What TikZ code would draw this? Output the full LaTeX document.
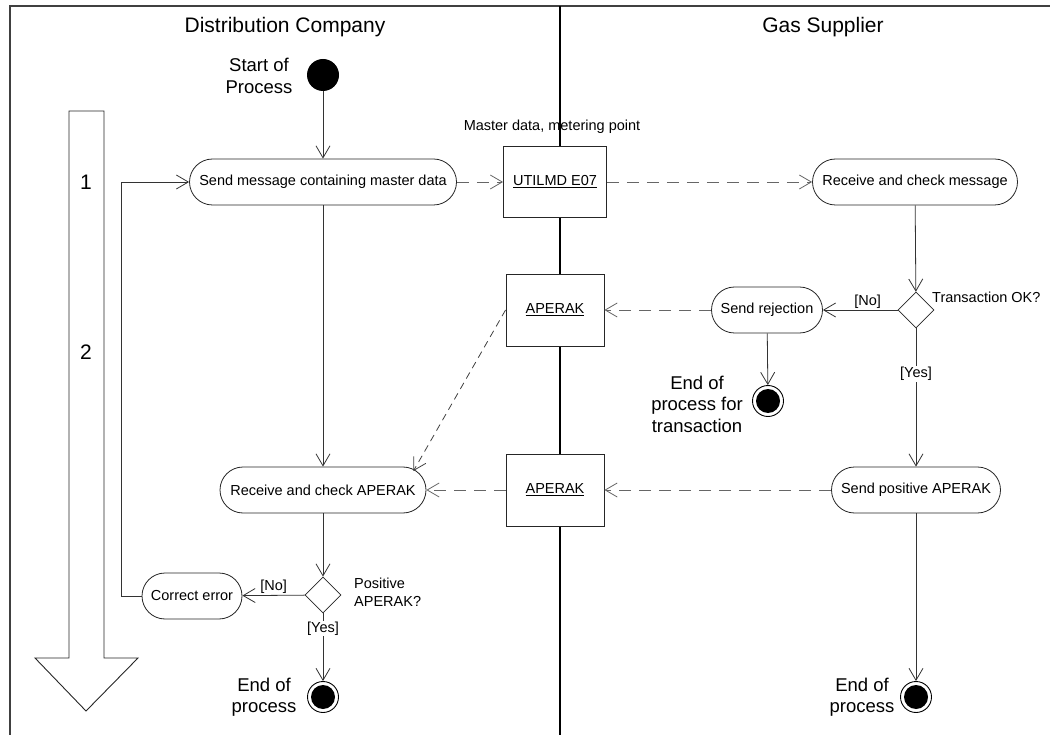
\documentclass[tikz,border=0pt]{standalone}
\usepackage{fontspec}
\setmainfont{Liberation Sans}
\usetikzlibrary{arrows.meta,shapes.geometric,calc}
\begin{document}
\begin{tikzpicture}[x=1pt,y=-1pt,
  ln/.style={draw=black!80, line width=0.8pt},
  arr/.style={ln,-{Straight Barb[length=12pt,width=14pt,line width=0.8pt]}},
  dsh/.style={arr, draw=black!60, dash pattern=on 12pt off 8pt},
  dshd/.style={arr, draw=black!75, dash pattern=on 7pt off 5pt},
  act/.style={draw=black!85, line width=0.8pt, fill=white, rounded corners=23pt, minimum height=46pt, inner sep=0pt, font=\fontsize{14.5}{17}\selectfont},
  obj/.style={draw=black!85, line width=0.9pt, fill=white, minimum width=98pt, minimum height=72pt, inner sep=0pt, font=\fontsize{14.5}{17}\selectfont},
  dec/.style={diamond, draw=black!85, line width=0.8pt, fill=white, minimum width=36pt, minimum height=36pt, inner sep=0pt, aspect=1},
  lbl/.style={font=\fontsize{14.5}{18}\selectfont, inner sep=1pt},
  big/.style={font=\fontsize{18.5}{21.5}\selectfont, align=center, inner sep=0pt},
  ttl/.style={font=\fontsize{21}{24}\selectfont, inner sep=0pt},
  startc/.style={circle, fill=black, minimum size=32pt, inner sep=0pt},
  endc/.style={circle, draw=black, line width=0.9pt, fill=white, minimum size=31pt, inner sep=0pt}
]
\useasboundingbox (0,0) rectangle (1050,735);
% frame and lanes
\draw[line width=1.4pt, draw=black!75] (10,735) -- (10,6) -- (1050,6);
\draw[line width=1.3pt] (560,6) -- (560,735);
\node[ttl] (t1) at (285,27) {Distribution Company};
\node[ttl] (t2) at (823,27) {Gas Supplier};
% phase arrow
\draw[line width=0.9pt, draw=black!85] (69,111) -- (104,111) -- (104,658) -- (138,658) -- (86,711) -- (35,658) -- (69,658) -- cycle;
\node[ttl] (n1) at (86,182) {1};
\node[ttl] (n2) at (86,352) {2};
% nodes
\node[startc] (start) at (323,75) {};
\node[big] (startl) at (259,76) {Start of\\Process};
\node[act, minimum width=267pt] (send) at (323,182) {Send message containing master data};
\node[obj, minimum width=103pt, minimum height=71pt] (util) at (555,182) {\underline{UTILMD E07}};
\node[lbl] (mdl) at (552,127) {Master data, metering point};
\node[act, minimum width=205pt] (rcvm) at (915,182) {Receive and check message};
\node[dec] (d1) at (916,310) {};
\node[lbl, anchor=west] (d1l) at (931,297) {Transaction OK?};
\node[act, minimum width=111pt] (rej) at (767,310) {Send rejection};
\node[obj] (ap1) at (555,310) {\underline{APERAK}};
\node[endc] (e2) at (768,401) {};
\node[big] (e2l) at (697,404) {End of\\process for\\transaction};
\node[act, minimum width=169pt] (pos) at (916,490) {Send positive APERAK};
\node[obj] (ap2) at (555,490) {\underline{APERAK}};
\node[act, minimum width=206pt] (rcva) at (323,490) {Receive and check APERAK};
\node[dec] (d2) at (323,595) {};
\node[lbl, anchor=west, align=left] (d2l) at (353,592) {Positive\\APERAK?};
\node[act, minimum width=100pt] (corr) at (192,596) {Correct error};
\node[endc] (e1) at (323,697) {};
\node[big] (e1l) at (264,697) {End of\\process};
\node[endc] (e3) at (916,697) {};
\node[big] (e3l) at (862,697) {End of\\process};
\fill (e1.center) circle [radius=12pt];
\fill (e2.center) circle [radius=12pt];
\fill (e3.center) circle [radius=12pt];
% connectors
\draw[arr] (start) -- (send);
\draw[dsh] (send) -- (util);
\draw[dsh] (util) -- (rcvm);
\draw[arr] (rcvm) -- (d1);
\draw[arr] (d1) -- node[lbl, above, pos=0.4] (no1) {[No]} (rej);
\draw[dsh] (rej) -- (ap1);
\draw[arr] (rej) -- (e2);
\draw[arr] (d1) -- node[lbl, fill=white, pos=0.33] (yes1) {[Yes]} (pos);
\draw[dsh] (pos) -- (ap2);
\draw[arr] (pos) -- (e3);
\draw[dsh] (ap2) -- (rcva);
\coordinate (rcvtip) at ($(rcva.east)+(-13,-19)$);
\draw[dshd] (ap1.west) -- (rcvtip);
\draw[arr] (send) -- (rcva);
\draw[arr] (rcva) -- (d2);
\draw[arr] (d2) -- node[lbl, above, pos=0.5] (no2) {[No]} (corr);
\draw[arr] (d2) -- node[lbl, fill=white, pos=0.22] (yes2) {[Yes]} (e1);
\draw[arr] (corr.west) -- (121,596) -- (121,182) -- (send.west);
\end{tikzpicture}
\end{document}
